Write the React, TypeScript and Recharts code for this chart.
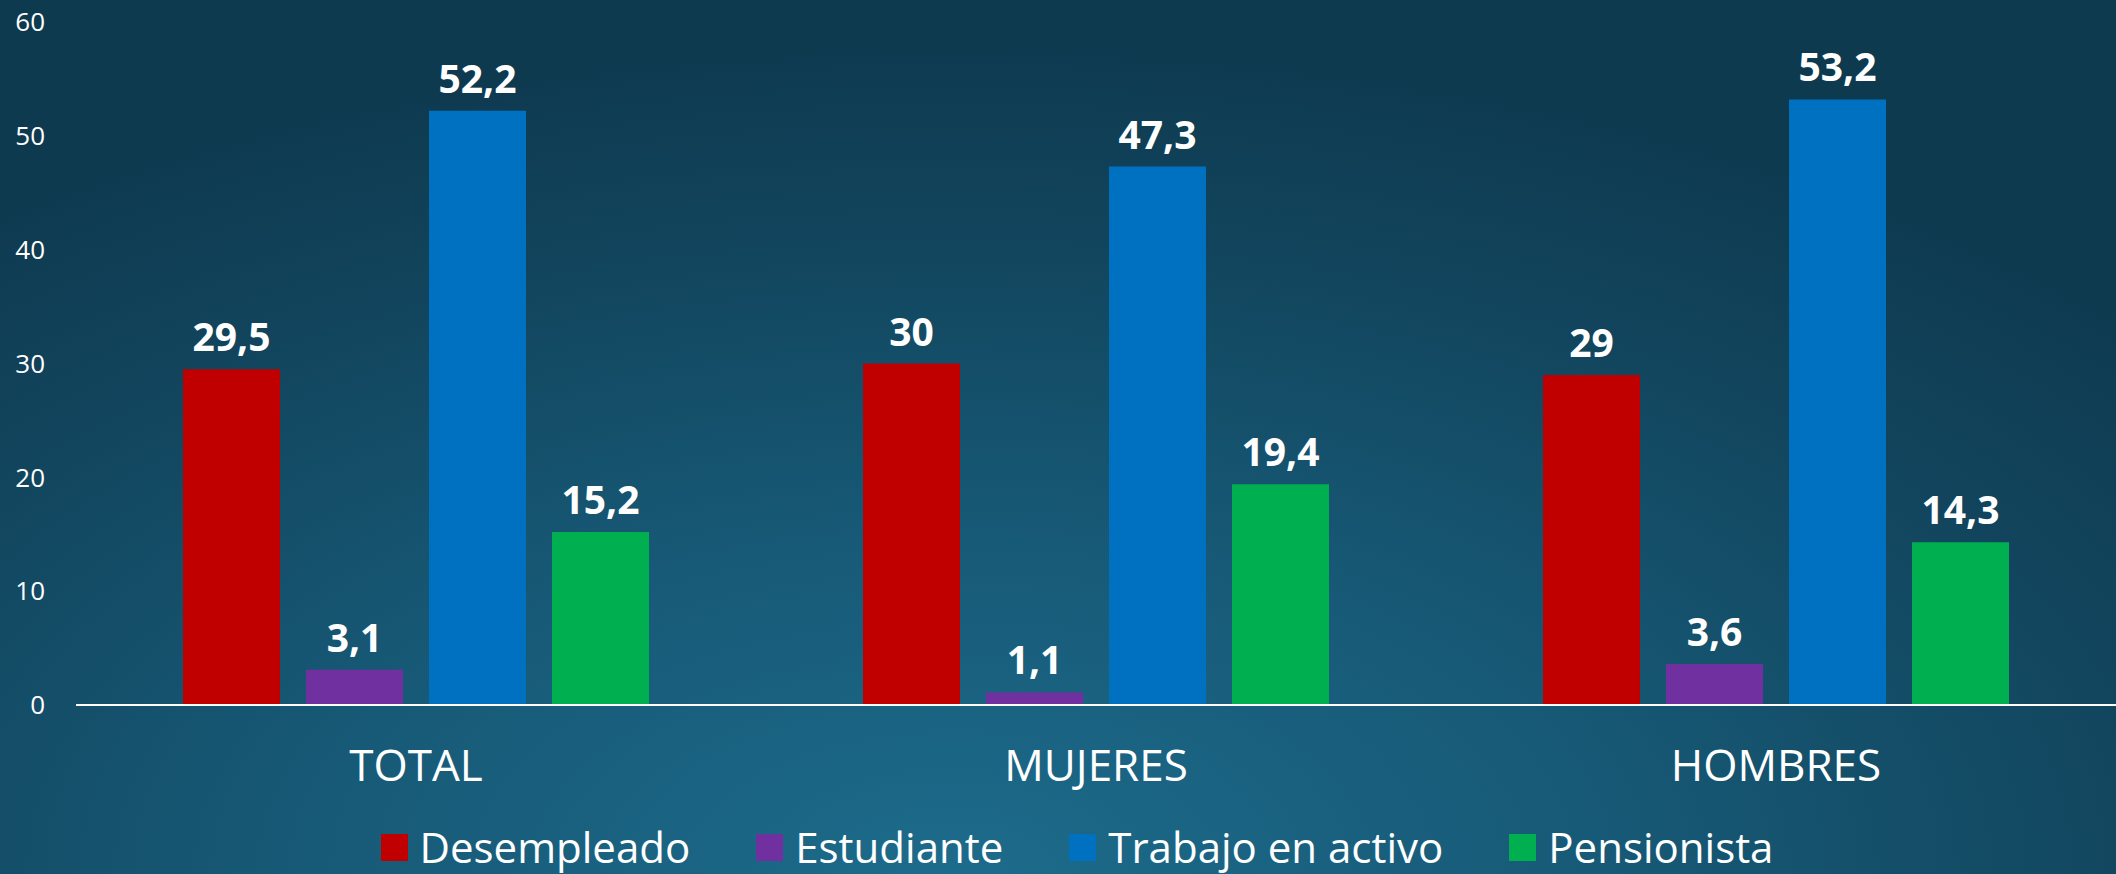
import React from 'react';
import { BarChart, Bar, XAxis, YAxis, LabelList, Legend } from 'recharts';

const categories = ['TOTAL', 'MUJERES', 'HOMBRES'];
const desempleado = [29.5, 30, 29];
const estudiante = [3.1, 1.1, 3.6];
const trabajoActivo = [52.2, 47.3, 53.2];
const pensionista = [15.2, 19.4, 14.3];
const yTicks = [0, 10, 20, 30, 40, 50, 60];

const series = [
  { key: 'desempleado', name: 'Desempleado', color: '#c00000' },
  { key: 'estudiante', name: 'Estudiante', color: '#7030a0' },
  { key: 'trabajoActivo', name: 'Trabajo en activo', color: '#0070c0' },
  { key: 'pensionista', name: 'Pensionista', color: '#00b050' },
];

const chartData = categories.map((name, i) => ({
  name,
  desempleado: desempleado[i],
  estudiante: estudiante[i],
  trabajoActivo: trabajoActivo[i],
  pensionista: pensionista[i],
}));

const FONT = '"Open Sans", "DejaVu Sans", sans-serif';

const formatValue = (v: any) => String(v).replace('.', ',');

const CustomLegend = () => (
  <div
    style={{
      height: 54,
      display: 'flex',
      alignItems: 'center',
      justifyContent: 'center',
      paddingLeft: 38,
      fontFamily: FONT,
      fontSize: 42,
      color: '#ffffff',
    }}
  >
    {series.map((s, i) => (
      <div
        key={s.key}
        style={{ display: 'flex', alignItems: 'center', marginLeft: i === 0 ? 0 : 66 }}
      >
        <span style={{ width: 27, height: 27, background: s.color, marginRight: 12, display: 'inline-block' }} />
        <span style={{ lineHeight: '54px' }}>{s.name}</span>
      </div>
    ))}
  </div>
);

export default function App() {
  return (
    <div
      style={{
        position: 'absolute',
        top: 0,
        left: 0,
        width: 2116,
        height: 874,
        background:
          'radial-gradient(ellipse 75% 95% at 45% 100%, #1d6b8b 0%, #175a77 40%, #12465e 75%, #0e3a50 100%)',
        fontFamily: FONT,
      }}
    >
      <BarChart
        width={2116}
        height={874}
        data={chartData}
        margin={{ top: 22, right: 0, bottom: 0, left: 0 }}
        barSize={97}
        barGap={26}
      >
        <XAxis
          dataKey="name"
          axisLine={{ stroke: '#ffffff', strokeWidth: 2 }}
          tickLine={false}
          tickMargin={39}
          height={115}
          tick={{ fill: '#ffffff', fontSize: 44, fontFamily: FONT }}
        />
        <YAxis
          domain={[0, 60]}
          ticks={yTicks}
          width={76}
          axisLine={false}
          tickLine={false}
          tickMargin={25}
          tick={{ fill: '#ffffff', fontSize: 26, fontFamily: FONT }}
        />
        <Legend verticalAlign="bottom" content={<CustomLegend />} />
        {series.map(s => (
          <Bar key={s.key} dataKey={s.key} name={s.name} fill={s.color} isAnimationActive={false}>
            <LabelList
              dataKey={s.key}
              position="top"
              offset={18}
              formatter={formatValue}
              fill="#ffffff"
              fontSize={39}
              fontWeight={700}
              fontFamily={FONT}
            />
          </Bar>
        ))}
      </BarChart>
    </div>
  );
}
